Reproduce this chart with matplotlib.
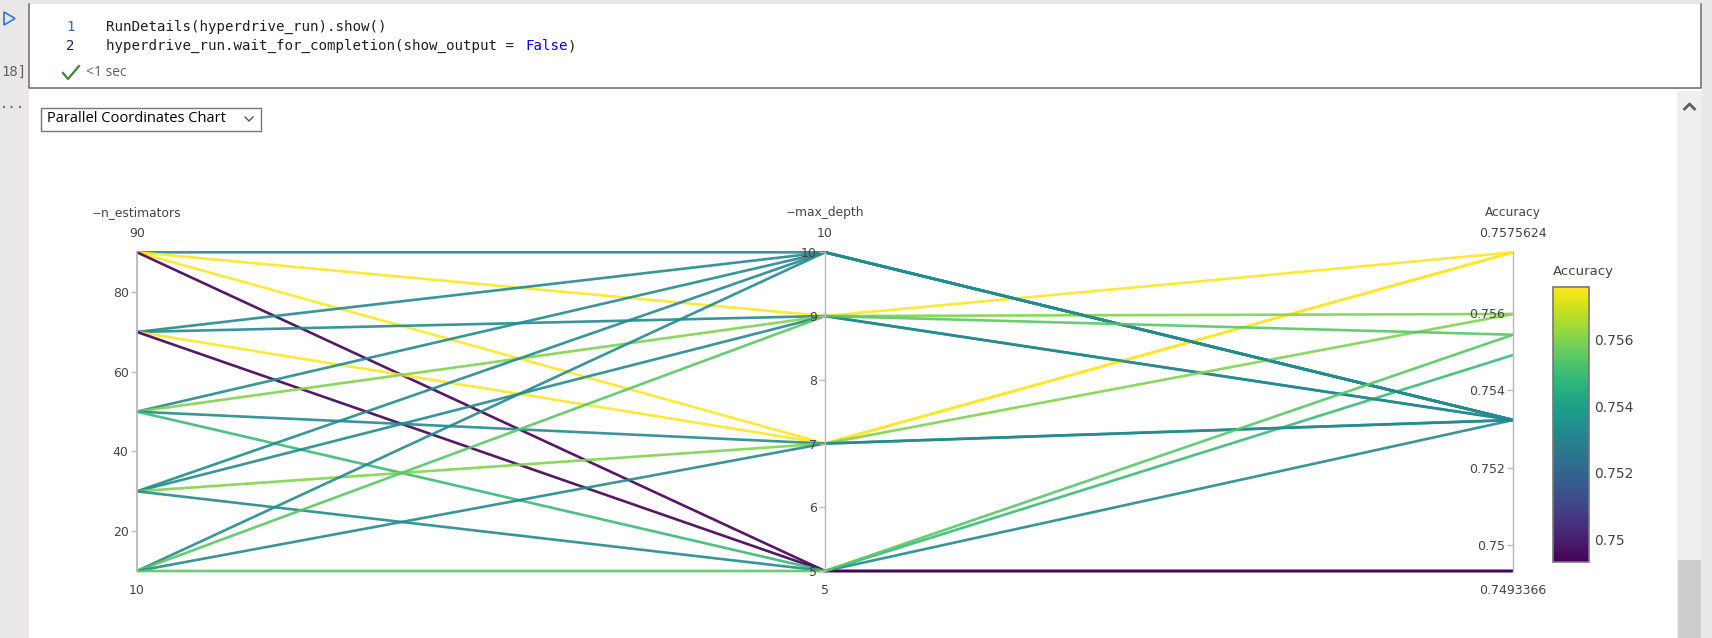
import numpy as np
import matplotlib.pyplot as plt
from matplotlib import cm, colors
from matplotlib.patches import Rectangle, Polygon

# runs
n_estimators = [90, 90, 90, 90, 70, 70, 70, 70, 50, 50, 50, 50, 30, 30, 30, 30, 10, 10, 10, 10]
max_depth = [10, 9, 7, 5, 10, 9, 7, 5, 10, 9, 7, 5, 10, 9, 7, 5, 10, 9, 7, 5]
accuracy = [0.753233, 0.7575624, 0.7575624, 0.7493366,
            0.753233, 0.753233, 0.7575624, 0.7493366,
            0.753233, 0.75597, 0.753233, 0.754911,
            0.753233, 0.753233, 0.75597, 0.753233,
            0.753233, 0.755435, 0.753233, 0.755435]

dim_names = ['--n_estimators', '--max_depth', 'Accuracy']
dim_ticks = [[20, 40, 60, 80], [5, 6, 7, 8, 9, 10], [0.75, 0.752, 0.754, 0.756]]
cbar_ticks = [0.75, 0.752, 0.754, 0.756]

code_line1 = 'RunDetails(hyperdrive_run).show()'
code_line2 = ['hyperdrive_run.wait_for_completion(show_output = ', 'False', ')']

W, H = 1712, 638
fig = plt.figure(figsize=(W / 100, H / 100), dpi=100)
fig.patch.set_facecolor('#eae8e6')


def box(x0, y0, x1, y1):
    return [x0 / W, 1 - y1 / H, (x1 - x0) / W, (y1 - y0) / H]


# notebook frame
ui = fig.add_axes([0, 0, 1, 1])
ui.set_xlim(0, W)
ui.set_ylim(H, 0)
ui.axis('off')
ui.add_patch(Rectangle((29, 4), 1672, 84, fc='white', ec='none'))
ui.plot([29, 29, 1701, 1701], [4, 88, 88, 4], color='#6b6b6b', lw=1.1)
ui.add_patch(Rectangle((29, 89), 1673, 549, fc='white', ec='none'))
ui.add_patch(Rectangle((1677, 91), 25, 547, fc='#efefef', ec='none'))
ui.add_patch(Rectangle((1678, 560), 23, 78, fc='#cdcdcd', ec='none'))
ui.plot([1684.5, 1689.5, 1694.5], [109, 104, 109], color='#5f5f5f', lw=2)

ui.add_patch(Polygon([[4, 12], [4, 25], [15, 18.5]], closed=True, fc='none', ec='#3c7fd1', lw=1.3))
ui.text(1, 72, '18]', ha='left', va='center', family='DejaVu Sans Mono', fontsize=10, color='#616161')
ui.text(0, 104, '...', ha='left', va='center', family='DejaVu Sans Mono', fontsize=10, color='#616161')

cw = 8.55
mono = dict(family='DejaVu Sans Mono', fontsize=10.2, va='center', ha='left')
ui.text(66, 27, '1', color='#237893', **mono)
ui.text(66, 46, '2', color='#0b216f', **mono)
ui.text(106, 27, code_line1, color='#1f1f1f', **mono)
ui.text(106, 46, code_line2[0], color='#1f1f1f', **mono)
ui.text(106 + cw * len(code_line2[0]), 46, code_line2[1], color='#0000ff', **mono)
ui.text(106 + cw * (len(code_line2[0]) + len(code_line2[1])), 46, code_line2[2], color='#1f1f1f', **mono)

ui.plot([63, 68, 79], [73, 79, 66], color='#388a34', lw=1.6)
ui.text(86, 73, '<1 sec', ha='left', va='center', family='Open Sans', fontsize=10, color='#616161')

ui.add_patch(Rectangle((41.5, 107.5), 220, 23, fc='white', ec='#767676', lw=1))
ui.text(47, 119, 'Parallel Coordinates Chart', ha='left', va='center', family='Open Sans', fontsize=10.5, color='black')
ui.plot([245, 249, 253], [117, 121, 117], color='#555555', lw=1)

# parallel coordinates
data = [n_estimators, max_depth, accuracy]
lo = [min(d) for d in data]
hi = [max(d) for d in data]
scaled = [(np.array(d) - l) / (h - l) for d, l, h in zip(data, lo, hi)]

cnorm = colors.Normalize(min(accuracy), max(accuracy))
cmap = plt.get_cmap('viridis')

ax = fig.add_axes(box(137, 252.3, 1513, 571))
ax.set_xlim(0, 2)
ax.set_ylim(0, 1)
ax.axis('off')
for j in range(len(accuracy)):
    ax.plot([0, 1, 2], [s[j] for s in scaled], color=cmap(cnorm(accuracy[j])),
            lw=1.9, alpha=0.9, clip_on=False, solid_capstyle='butt')

for i in range(3):
    x = 137 + i * 688
    dax = fig.add_axes(box(x, 252.3, x + 0.01, 571))
    dax.set_facecolor('none')
    dax.set_ylim(lo[i], hi[i])
    dax.set_xticks([])
    for s in ['top', 'right', 'bottom']:
        dax.spines[s].set_visible(False)
    dax.spines['left'].set_color('#b8b8b8')
    dax.spines['left'].set_linewidth(1.3 if i == 0 else 1)
    dax.set_yticks(dim_ticks[i])
    dax.set_yticklabels(['{:g}'.format(t) for t in dim_ticks[i]])
    dax.tick_params(axis='y', length=4, width=1, color='#b8b8b8', labelsize=9,
                    labelcolor='#444444', pad=2)
    dax.annotate(dim_names[i], xy=(0, 1), xycoords='axes fraction', xytext=(0, 40),
                 textcoords='offset pixels', ha='center', va='center', fontsize=8.8, color='#444444')
    dax.annotate(str(hi[i]), xy=(0, 1), xycoords='axes fraction', xytext=(0, 19),
                 textcoords='offset pixels', ha='center', va='center', fontsize=9, color='#444444')
    dax.annotate(str(lo[i]), xy=(0, 0), xycoords='axes fraction', xytext=(0, -19),
                 textcoords='offset pixels', ha='center', va='center', fontsize=9, color='#444444')

cax = fig.add_axes(box(1553, 287, 1589, 562))
sm = cm.ScalarMappable(norm=cnorm, cmap=cmap)
cb = fig.colorbar(sm, cax=cax)
cb.set_ticks(cbar_ticks)
cb.set_ticklabels(['{:g}'.format(t) for t in cbar_ticks])
cb.ax.tick_params(length=0, labelsize=10, labelcolor='#444444', pad=4)
cb.outline.set_edgecolor('#777777')
cb.outline.set_linewidth(1.2)
cax.annotate('Accuracy', xy=(0, 1), xycoords='axes fraction', xytext=(0, 16),
             textcoords='offset pixels', ha='left', va='center', fontsize=9.5, color='#444444')

fig.savefig('out.png', dpi=100)
